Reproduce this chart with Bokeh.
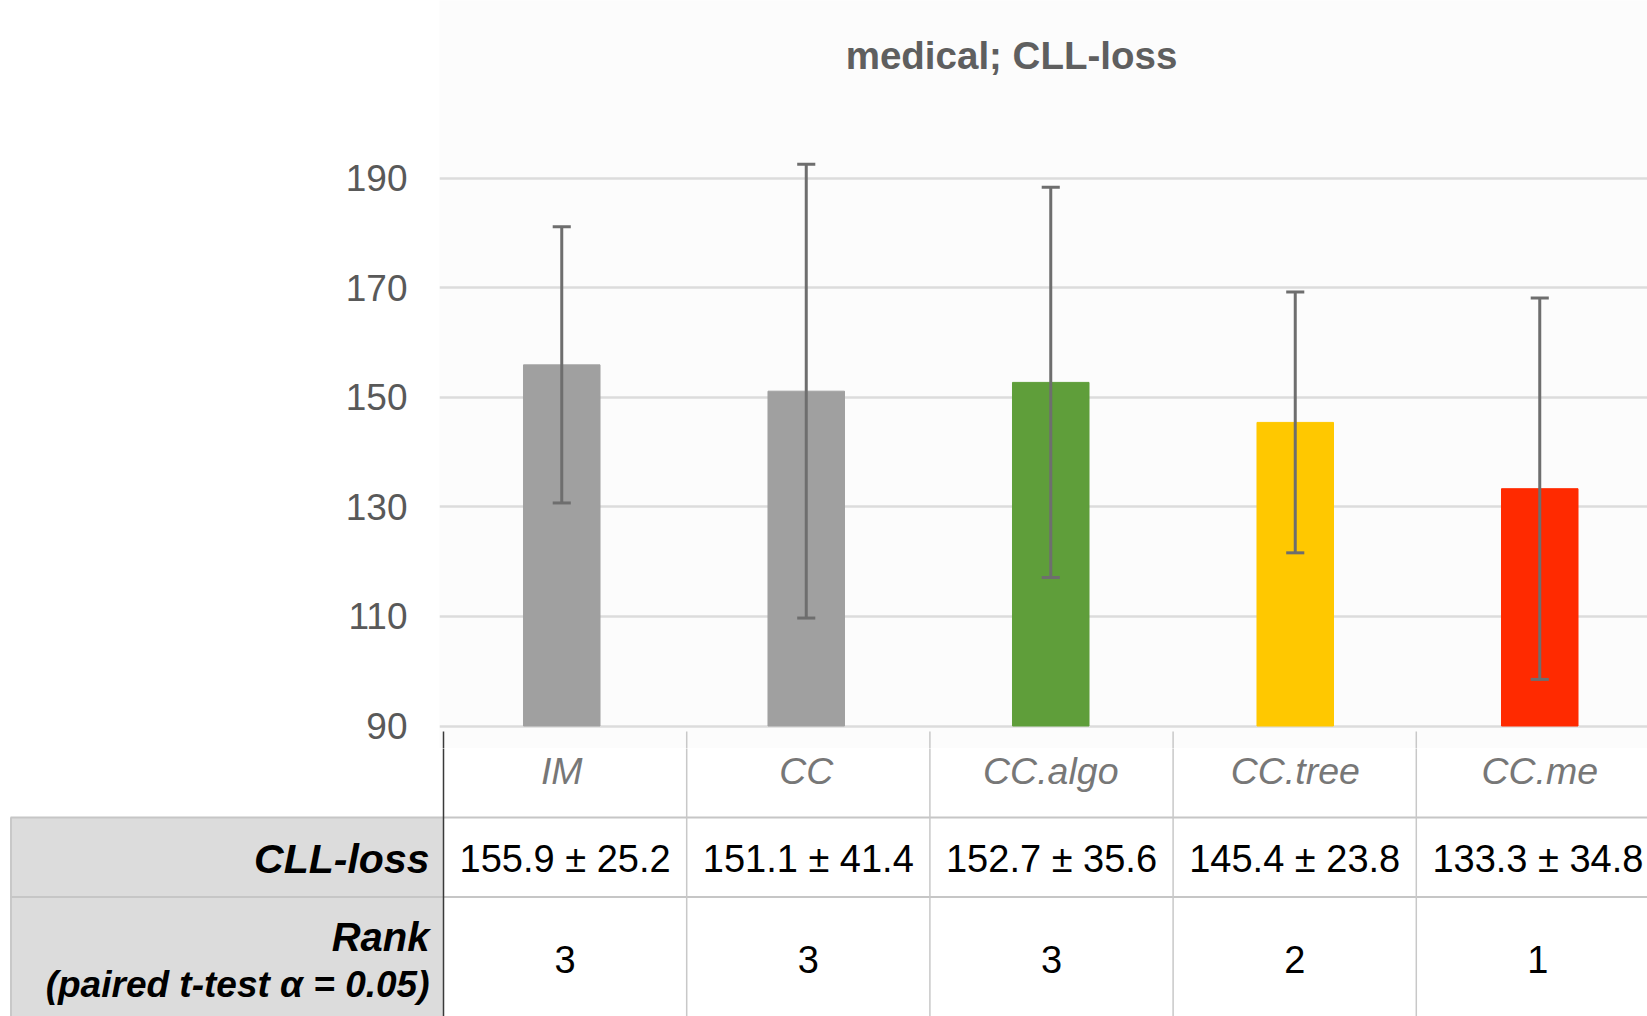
from bokeh.plotting import figure
from bokeh.models import Range1d, FixedTicker, Label, ColumnDataSource
from bokeh.layouts import column
from bokeh.embed import file_html
from bokeh.resources import INLINE
from bokeh.core.properties import value

# ---------------- data ----------------
categories = ["IM", "CC", "CC.algo", "CC.tree", "CC.me"]
means = [155.9, 151.1, 152.7, 145.4, 133.3]
stds = [25.2, 41.4, 35.6, 23.8, 34.8]
ranks = [3, 3, 3, 2, 1]
y_ticks = [90, 110, 130, 150, 170, 190]
title_text = "medical; CLL-loss"
row_headers = ["CLL-loss", "Rank", "(paired t-test \u03b1 = 0.05)"]
bar_colors = ["#a0a0a0", "#a0a0a0", "#5f9e3a", "#ffc800", "#ff2a00"]

# ---------------- layout constants ----------------
FONT = "Liberation Sans"
OFF = 0               # page offset of the canvas
PAGE_W = 1647
PAGE_H = 1016
PX_X = 244.5          # pixels per category (chart)
COL_W = 243.2         # table column width in pixels
PX_Y = 5.48           # pixels per value unit
FRAME_LEFT = 439      # page x where chart frame starts
X0 = -0.5
X_END = X0 + (PAGE_W - FRAME_LEFT) / PX_X
BASE_PAGE_Y = 725.5   # page y of value 90
CHART_BOTTOM = 748    # page y where chart figure ends
CHART_H = CHART_BOTTOM - OFF
Y_TOP = 90 + (BASE_PAGE_Y - OFF) / PX_Y
Y_BOT = 90 - (CHART_BOTTOM - BASE_PAGE_Y) / PX_Y


def px2x(page_x):
    return X0 + (page_x - FRAME_LEFT) / PX_X


def py2v(page_y):
    return 90 + (BASE_PAGE_Y - page_y) / PX_Y


idx = list(range(len(categories)))

# ---------------- chart figure ----------------
p = figure(width=PAGE_W - OFF, height=CHART_H,
           x_range=Range1d(X0, X_END), y_range=Range1d(Y_BOT, Y_TOP),
           x_axis_type=None, output_backend="svg", toolbar_location=None,
           min_border_left=FRAME_LEFT - OFF, min_border_right=0,
           min_border_top=0, min_border_bottom=0, frame_align=False)
p.outline_line_color = None
p.background_fill_color = "#fcfcfc"
p.border_fill_color = "white"
p.xgrid.visible = False
p.ygrid.ticker = FixedTicker(ticks=y_ticks)
p.ygrid.grid_line_color = "#dcdcdc"
p.ygrid.grid_line_width = 2.5
p.yaxis.ticker = FixedTicker(ticks=y_ticks)
p.yaxis.axis_line_color = None
p.yaxis.major_tick_line_color = None
p.yaxis.minor_tick_line_color = None
p.yaxis.major_tick_out = 0
p.yaxis.major_label_standoff = 32
p.yaxis.major_label_text_font = FONT
p.yaxis.major_label_text_font_size = "37px"
p.yaxis.major_label_text_color = "#595959"

bars = ColumnDataSource(dict(x=idx, top=means, color=bar_colors))
p.vbar(x="x", top="top", bottom=90, width=0.313, color="color", source=bars)

lo = [m - s for m, s in zip(means, stds)]
hi = [m + s for m, s in zip(means, stds)]
cap = 0.037
ERR = "#6e6e6e"
p.segment(x0=idx, x1=idx, y0=lo, y1=hi, line_color=ERR, line_width=3)
p.segment(x0=[i - cap for i in idx], x1=[i + cap for i in idx], y0=hi, y1=hi,
          line_color=ERR, line_width=3)
p.segment(x0=[i - cap for i in idx], x1=[i + cap for i in idx], y0=lo, y1=lo,
          line_color=ERR, line_width=3)

# table column edges (continue into chart bottom strip)
edges = [px2x(443 + i * COL_W) for i in idx]
centers = [px2x(443 + (i + 0.5) * COL_W) for i in idx]
p.segment(x0=edges[:1], x1=edges[:1], y0=[py2v(731)], y1=[Y_BOT - 5],
          line_color="#3a3a3a", line_width=1.5)
p.segment(x0=edges[1:], x1=edges[1:], y0=[py2v(731)] * 4, y1=[Y_BOT - 5] * 4,
          line_color="#c8c8c8", line_width=1.5)

p.add_layout(Label(x=px2x(1011), y=py2v(55), text=title_text,
                   text_align="center", text_baseline="middle",
                   text_font=FONT, text_font_style="bold",
                   text_font_size="38.5px", text_color="#5f5f5f"))

# ---------------- table figure ----------------
TABLE_H = PAGE_H - CHART_BOTTOM
q = figure(width=PAGE_W - OFF, height=TABLE_H,
           x_range=Range1d(px2x(OFF), X_END), y_range=Range1d(PAGE_H, CHART_BOTTOM),
           x_axis_type=None, y_axis_type=None,
           output_backend="svg", toolbar_location=None,
           min_border_left=0, min_border_right=0,
           min_border_top=0, min_border_bottom=0, frame_align=False)
q.outline_line_color = None
q.background_fill_color = "white"
q.border_fill_color = "white"

q.quad(left=px2x(10), right=px2x(443), top=817, bottom=1030,
       fill_color="#dcdcdc", line_color=None)
q.segment(x0=[px2x(10.5)], x1=[px2x(10.5)], y0=[817], y1=[1030],
          line_color="#c8c8c8", line_width=2)
q.segment(x0=[px2x(10)] * 2, x1=[px2x(1660)] * 2, y0=[817, 896.5], y1=[817, 896.5],
          line_color="#c6c6c6", line_width=2)
q.segment(x0=edges[1:], x1=edges[1:], y0=[740] * 4, y1=[1030] * 4,
          line_color="#c8c8c8", line_width=1.5)
q.segment(x0=edges[:1], x1=edges[:1], y0=[740], y1=[1030],
          line_color="#3a3a3a", line_width=1.5)

q.text(x=idx, y=[770] * 5, text=categories, text_font=value(FONT),
       text_font_style="italic", text_font_size="37.5px", text_color="#777777",
       text_align="center", text_baseline="middle")

val_text = [f"{m:.1f} \u00b1 {s:.1f}" for m, s in zip(means, stds)]
q.text(x=centers, y=[858] * 5, text=val_text, text_font=value(FONT),
       text_font_size="38px", text_color="black",
       text_align="center", text_baseline="middle")
q.text(x=centers, y=[959] * 5, text=[str(r) for r in ranks],
       text_font=value(FONT), text_font_size="38px", text_color="black",
       text_align="center", text_baseline="middle")

hx = px2x(429)
q.text(x=[hx], y=[858], text=row_headers[:1], text_font=value(FONT),
       text_font_style="bold italic", text_font_size="41px", text_color="black",
       text_align="right", text_baseline="middle")
q.text(x=[hx], y=[936], text=row_headers[1:2], text_font=value(FONT),
       text_font_style="bold italic", text_font_size="40px", text_color="black",
       text_align="right", text_baseline="middle")
q.text(x=[hx], y=[984], text=row_headers[2:], text_font=value(FONT),
       text_font_style="bold italic", text_font_size="37px", text_color="black",
       text_align="right", text_baseline="middle")

layout = column(p, q, spacing=0)
open("out.html", "w").write(file_html(layout, INLINE))
